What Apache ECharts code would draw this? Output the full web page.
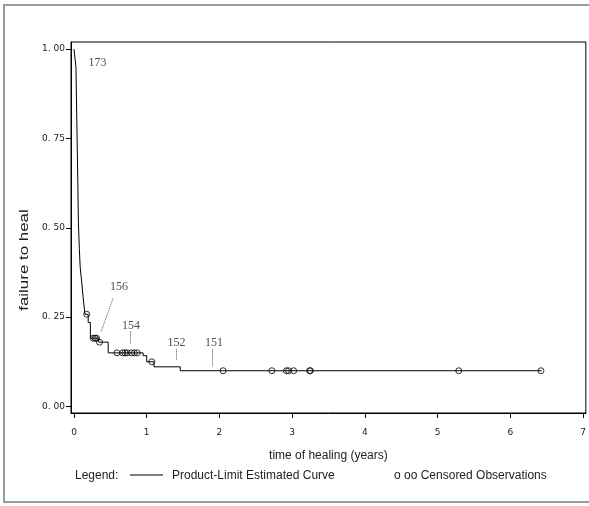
<!DOCTYPE html>
<html>
<head>
<meta charset="utf-8">
<script src="https://cdn.jsdelivr.net/npm/echarts@6/dist/echarts.min.js"></script>
<style>
  html, body { margin: 0; padding: 0; background: #fff; }
  #chart { width: 589px; height: 506px; }
</style>
</head>
<body>
<div id="chart"></div>
<script>
// ---- data ----
const xTicks = [0, 1, 2, 3, 4, 5, 6, 7];
const yTicks = [0, 0.25, 0.5, 0.75, 1];
const yTickLabels = ['0. 00', '0. 25', '0. 50', '0. 75', '1. 00'];

// Kaplan-Meier step curve (time in years, failure-to-heal proportion)
const curveT = [0, 0.027, 0.052, 0.06, 0.073, 0.085, 0.1, 0.125, 0.15, 0.195, 0.225, 0.34, 0.47, 0.95, 1.0, 1.1, 1.46, 6.43];
const curveV = [1.0, 0.948, 0.634, 0.519, 0.443, 0.39, 0.36, 0.307, 0.258, 0.235, 0.191, 0.180, 0.150, 0.142, 0.125, 0.111, 0.100, 0.100];

// censored observations
const censorT = [0.175, 0.265, 0.29, 0.31, 0.35, 0.59, 0.67, 0.70, 0.73, 0.79, 0.83, 0.87, 1.07, 2.05, 2.72, 2.92, 2.95, 3.02, 3.24, 3.25, 5.29, 6.42];
const censorV = [0.258, 0.191, 0.191, 0.191, 0.180, 0.150, 0.150, 0.150, 0.150, 0.150, 0.150, 0.150, 0.125, 0.100, 0.100, 0.100, 0.100, 0.100, 0.100, 0.100, 0.100, 0.100];

// numbers at risk annotations
const riskLabels = ['173', '156', '154', '152', '151'];
const riskT = [0.323, 0.619, 0.784, 1.41, 1.926];
const riskV = [0.961, 0.334, 0.225, 0.178, 0.178];
const leaderFromT = [0.536, 0.770, 1.40, 1.90];
const leaderFromV = [0.302, 0.210, 0.160, 0.160];
const leaderToT = [0.371, 0.770, 1.40, 1.90];
const leaderToV = [0.208, 0.175, 0.130, 0.113];

const xTitle = 'time of healing (years)';
const yTitle = 'failure to heal';

// ---- chart ----
const chart = echarts.init(document.getElementById('chart'), null, { renderer: 'canvas' });

const curveData = curveT.map((t, i) => [t, curveV[i]]);
const censorData = censorT.map((t, i) => [t, censorV[i]]);
const riskData = riskT.map((t, i) => ({ value: [t, riskV[i]], name: riskLabels[i] }));
const leaderData = leaderFromT.map((t, i) => [
  { coord: [t, leaderFromV[i]] },
  { coord: [leaderToT[i], leaderToV[i]] }
]);

const tickFont = { fontFamily: 'DejaVu Sans', fontSize: 9, color: '#222' };

const option = {
  animation: false,
  backgroundColor: '#fff',
  grid: { left: 71, top: 42, width: 515, height: 371, show: true, borderColor: '#000', borderWidth: 1, containLabel: false },
  xAxis: {
    type: 'value',
    min: -0.0412, max: 7.037,
    axisLine: { show: true, onZero: false, lineStyle: { color: '#000', width: 1 } },
    axisTick: { show: true, length: 5, customValues: xTicks, lineStyle: { color: '#000' } },
    axisLabel: { show: true, customValues: xTicks, margin: 15, ...tickFont, formatter: v => String(v) },
    splitLine: { show: false },
    name: xTitle, nameLocation: 'middle', nameGap: 37,
    nameTextStyle: { fontFamily: 'Liberation Sans', fontSize: 12, color: '#222' }
  },
  yAxis: {
    type: 'value',
    min: -0.0182, max: 1.0196,
    axisLine: { show: true, onZero: false, lineStyle: { color: '#000', width: 1 } },
    axisTick: { show: true, length: 5, customValues: yTicks, lineStyle: { color: '#000' } },
    axisLabel: { show: true, customValues: yTicks, margin: 6, ...tickFont,
      formatter: v => { const k = yTicks.findIndex(y => Math.abs(y - v) < 1e-9); return k >= 0 ? yTickLabels[k] : ''; } },
    splitLine: { show: false }
  },
  series: [
    {
      name: 'Product-Limit Estimated Curve',
      type: 'line', step: 'end', data: curveData,
      symbol: 'none', lineStyle: { color: '#000', width: 1 }, z: 2
    },
    {
      name: 'Censored Observations',
      type: 'scatter', data: censorData,
      symbol: 'circle', symbolSize: 6,
      itemStyle: { color: 'rgba(0,0,0,0)', borderColor: '#000', borderWidth: 1 }, z: 3
    },
    {
      name: 'at risk',
      type: 'scatter', data: riskData, symbolSize: 0,
      label: { show: true, position: 'inside', formatter: p => p.name,
        fontFamily: 'Liberation Serif', fontSize: 12, color: '#222' },
      markLine: {
        silent: true, symbol: ['none', 'none'], animation: false,
        label: { show: false },
        lineStyle: { type: [1, 1], color: '#555', width: 1 },
        data: leaderData
      }
    }
  ],
  graphic: [
    { type: 'rect', shape: { x: 4, y: 5, width: 620, height: 497 }, style: { fill: 'none', stroke: '#9a9a9a', lineWidth: 2 }, silent: true },
    { type: 'text', x: 24, y: 260, rotation: Math.PI / 2, scaleX: 1.3,
      style: { text: yTitle, font: '13px "Liberation Sans"', fill: '#222', align: 'center', verticalAlign: 'middle' } },
    { type: 'text', left: 75, top: 470, style: { text: 'Legend:', font: '12px "Liberation Sans"', fill: '#222' } },
    { type: 'line', shape: { x1: 130, y1: 475, x2: 163, y2: 475 }, style: { stroke: '#000', lineWidth: 1 } },
    { type: 'text', left: 172, top: 470, style: { text: 'Product-Limit Estimated Curve', font: '12px "Liberation Sans"', fill: '#222' } },
    { type: 'text', left: 394, top: 470, style: { text: 'o oo Censored Observations', font: '12px "Liberation Sans"', fill: '#222' } }
  ]
};
chart.setOption(option);
</script>
</body>
</html>
